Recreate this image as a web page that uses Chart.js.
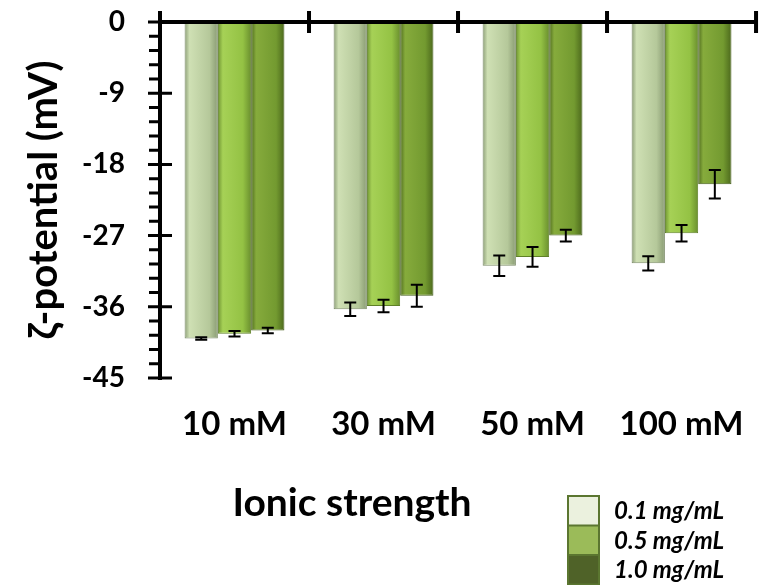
<!DOCTYPE html>
<html>
<head>
<meta charset="utf-8">
<script src="https://cdn.jsdelivr.net/npm/chart.js@4.4.1/dist/chart.umd.min.js"></script>
<style>
  html, body { margin: 0; padding: 0; background: #fff; }
  #wrap { width: 771px; height: 585px; position: relative; }
</style>
</head>
<body>
<div id="wrap"><canvas id="chart" width="771" height="585"></canvas></div>
<script>
const categories = ['10 mM', '30 mM', '50 mM', '100 mM']
const seriesLabels = ['0.1 mg/mL', '0.5 mg/mL', '1.0 mg/mL']
const conc01 = [-40.0, -36.3, -30.8, -30.5]
const conc05 = [-39.4, -35.9, -29.7, -26.7]
const conc10 = [-39.0, -34.6, -27.0, -20.5]
const err01 = [0.15, 0.85, 1.3, 0.9]
const err05 = [0.35, 0.8, 1.25, 1.05]
const err10 = [0.35, 1.4, 0.75, 1.8]
const yTicks = [0, -9, -18, -27, -36, -45]

const FONT = 'Lato'
const CAT_PCT = 0.67

// edge / middle / edge shades for the bevelled bars
const barShades = [
  ['#8d9f78', '#cfe0b4', '#b5c89a', '#899b73'],
  ['#6f9432', '#a6d156', '#94c244', '#6a8f2e'],
  ['#4f6c1e', '#86ab3c', '#739a30', '#4c691c']
]
const legendFill = ['#ebf1de', '#9bbb59', '#4f6228']

const barFill = (ctx) => {
  const chart = ctx.chart
  const xs = chart.scales.x
  const shades = barShades[ctx.datasetIndex]
  if (!chart.chartArea || !xs || ctx.dataIndex === undefined) return shades[1]
  const cat = xs.width / categories.length
  const w = cat * CAT_PCT / 3
  const c = xs.getPixelForValue(ctx.dataIndex) + (ctx.datasetIndex - 1) * w
  const g = chart.ctx.createLinearGradient(c - w / 2, 0, c + w / 2, 0)
  g.addColorStop(0, shades[0])
  g.addColorStop(0.15, shades[1])
  g.addColorStop(0.75, shades[2])
  g.addColorStop(1, shades[3])
  return g
}

const errors = [err01, err05, err10]

const axesAndBars = {
  id: 'axesAndBars',
  afterDatasetsDraw(chart) {
    const ctx = chart.ctx
    const ys = chart.scales.y
    // error bars
    ctx.save()
    ctx.strokeStyle = '#000'
    ctx.lineWidth = 2
    chart.data.datasets.forEach((ds, di) => {
      const meta = chart.getDatasetMeta(di)
      meta.data.forEach((bar, i) => {
        const v = ds.data[i], e = errors[di][i]
        const y1 = ys.getPixelForValue(v - e), y2 = ys.getPixelForValue(v + e)
        ctx.beginPath()
        ctx.moveTo(bar.x, y1); ctx.lineTo(bar.x, y2)
        ctx.moveTo(bar.x - 6, y1); ctx.lineTo(bar.x + 6, y1)
        ctx.moveTo(bar.x - 6, y2); ctx.lineTo(bar.x + 6, y2)
        ctx.stroke()
      })
    })
    ctx.restore()
  },
  afterDraw(chart) {
    const ctx = chart.ctx
    const area = chart.chartArea
    const xs = chart.scales.x, ys = chart.scales.y
    const y0 = ys.getPixelForValue(0)
    ctx.save()
    ctx.strokeStyle = '#000'
    ctx.lineWidth = 4
    ctx.lineCap = 'butt'
    // category axis sits at zero, along the top
    ctx.beginPath()
    ctx.moveTo(area.left, y0); ctx.lineTo(area.right, y0)
    const cat = xs.width / categories.length
    for (let i = 0; i <= categories.length; i++) {
      const x = xs.getPixelForValue(i) - cat / 2
      ctx.moveTo(x, y0 - 11); ctx.lineTo(x, y0 + 11)
    }
    // value axis
    ctx.moveTo(area.left, y0 - 2); ctx.lineTo(area.left, ys.getPixelForValue(-45) + 2)
    ctx.stroke()
    ctx.lineWidth = 3
    ctx.beginPath()
    for (let k = 0; k <= 25; k++) {
      const v = -k * 1.8
      const y = ys.getPixelForValue(v)
      if (k % 5 === 0) {
        ctx.moveTo(area.left - 12, y); ctx.lineTo(area.left + 12, y)
      } else {
        ctx.moveTo(area.left - 11, y); ctx.lineTo(area.left, y)
      }
    }
    ctx.stroke()

    // x axis title
    ctx.fillStyle = '#000'
    ctx.font = 'bold 39px ' + FONT
    ctx.textAlign = 'center'
    ctx.textBaseline = 'middle'
    ctx.fillText('Ionic strength', 352, 503)

    // legend, stacked swatches
    const lx = 568, ly = 496, sw = 31, sh = 29.5
    ctx.font = 'italic bold 24px ' + FONT
    ctx.textAlign = 'left'
    chart.data.datasets.forEach((ds, i) => {
      ctx.fillStyle = legendFill[i]
      ctx.fillRect(lx, ly + i * sh, sw, sh)
      ctx.fillStyle = '#000'
      ctx.fillText(ds.label, 614, ly + i * sh + sh / 2 + 1)
    })
    ctx.strokeStyle = '#5b7630'
    ctx.lineWidth = 2
    ctx.strokeRect(lx, ly, sw, sh * 3)
    ctx.beginPath()
    ctx.moveTo(lx, ly + sh); ctx.lineTo(lx + sw, ly + sh)
    ctx.moveTo(lx, ly + 2 * sh); ctx.lineTo(lx + sw, ly + 2 * sh)
    ctx.stroke()
    ctx.restore()
  }
}

const seriesData = [conc01, conc05, conc10]
const borderCols = ['#7c8c68', '#5f8028', '#435c18']

new Chart(document.getElementById('chart').getContext('2d'), {
  type: 'bar',
  data: {
    labels: categories,
    datasets: seriesData.map((d, i) => ({
      label: seriesLabels[i],
      data: d,
      backgroundColor: barFill,
      borderColor: borderCols[i],
      borderWidth: 1,
      categoryPercentage: CAT_PCT,
      barPercentage: 1
    }))
  },
  options: {
    responsive: false,
    animation: false,
    layout: { padding: { top: 22, right: 4, left: 0, bottom: 0 } },
    plugins: {
      legend: { display: false },
      tooltip: { enabled: false }
    },
    scales: {
      x: {
        position: 'bottom',
        grid: { display: false, drawTicks: false },
        border: { display: false },
        ticks: {
          color: '#000',
          padding: 27,
          font: { family: FONT, size: 33, weight: 'bold' }
        },
        afterFit: (s) => { s.height = 207 }
      },
      y: {
        min: -45,
        max: 0,
        grid: { display: false, drawTicks: false },
        border: { display: false },
        afterBuildTicks: (s) => { s.ticks = yTicks.map(v => ({ value: v })) },
        ticks: {
          color: '#000',
          padding: 35,
          font: { family: FONT, size: 28, weight: 'bold' }
        },
        title: {
          display: true,
          text: 'ζ-potential (mV)',
          color: '#000',
          padding: { top: 20, bottom: 0 },
          font: { family: FONT, size: 40, weight: 'bold' }
        },
        afterFit: (s) => {
          s.width = 160
          s.paddingTop = 0
          s.paddingBottom = 0
        }
      }
    }
  },
  plugins: [axesAndBars]
})
</script>
</body>
</html>
